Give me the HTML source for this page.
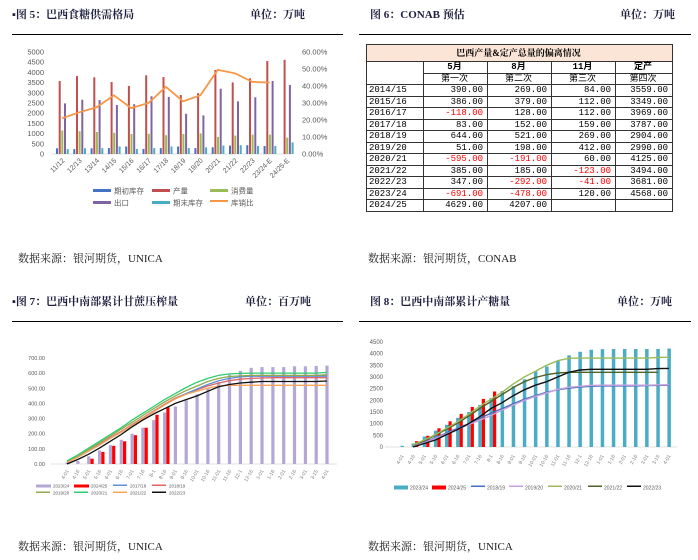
<!DOCTYPE html>
<html><head><meta charset="utf-8">
<style>
html,body{margin:0;padding:0;background:#fff;width:698px;height:560px;overflow:hidden}
body{position:relative;font-family:"Liberation Serif","Noto Serif CJK SC",serif}
.t{position:absolute;font-size:11px;font-weight:bold;color:#1f1f3f;white-space:nowrap;font-family:"Liberation Serif","Noto Serif CJK SC",serif}
.src{position:absolute;font-size:11px;color:#222;white-space:nowrap;font-family:"Liberation Serif","Noto Serif CJK SC",serif}
.hr{position:absolute;height:1px;background:#000}
svg{position:absolute;left:0;top:0}
table{position:absolute;left:366px;top:44px;border-collapse:collapse;font-family:"Liberation Mono","Noto Sans CJK SC",monospace;font-size:9px;width:307px}
td{border:1px solid #333;height:10.5px;padding:0 4px 0 2px;line-height:10px;text-align:right;white-space:nowrap}
td.l{text-align:left}
td.c{text-align:center}
.r{color:#f00}
</style></head><body>
<div class="t" style="left:12px;top:6px">▪图 5：巴西食糖供需格局</div>
<div class="t" style="left:250px;top:6px">单位：万吨</div>
<div class="hr" style="left:12px;top:34px;width:331px"></div>
<div class="t" style="left:370px;top:6px">图 6：CONAB 预估</div>
<div class="t" style="left:620px;top:6px">单位：万吨</div>
<div class="hr" style="left:359px;top:34px;width:332px"></div>
<div class="t" style="left:12px;top:293px">▪图 7：巴西中南部累计甘蔗压榨量</div>
<div class="t" style="left:245px;top:293px">单位：百万吨</div>
<div class="hr" style="left:12px;top:321px;width:331px"></div>
<div class="t" style="left:370px;top:293px">图 8：巴西中南部累计产糖量</div>
<div class="t" style="left:617px;top:293px">单位：万吨</div>
<div class="hr" style="left:359px;top:321px;width:332px"></div>
<div class="src" style="left:18px;top:250px">数据来源：银河期货，UNICA</div>
<div class="src" style="left:368px;top:250px">数据来源：银河期货，CONAB</div>
<div class="src" style="left:18px;top:538px">数据来源：银河期货，UNICA</div>
<div class="src" style="left:368px;top:538px">数据来源：银河期货，UNICA</div>

<table>
<tr><td colspan="5" class="c" style="background:#fbe5d6;height:16px;font-weight:bold;font-family:'Liberation Serif','Noto Serif CJK SC',serif">巴西产量&amp;定产总量的偏离情况</td></tr>
<tr><td style="border-bottom:none"></td><td class="c" style="width:57px"><b>5月</b></td><td class="c" style="width:57px"><b>8月</b></td><td class="c" style="width:57px"><b>11月</b></td><td class="c"><b>定产</b></td></tr>
<tr><td style="border-top:none"></td><td class="c">第一次</td><td class="c">第二次</td><td class="c">第三次</td><td class="c">第四次</td></tr>
<tr><td class="l">2014/15</td><td>390.00</td><td>269.00</td><td>84.00</td><td>3559.00</td></tr>
<tr><td class="l">2015/16</td><td>386.00</td><td>379.00</td><td>112.00</td><td>3349.00</td></tr>
<tr><td class="l">2016/17</td><td class="r">-118.00</td><td>128.00</td><td>112.00</td><td>3969.00</td></tr>
<tr><td class="l">2017/18</td><td>83.00</td><td>152.00</td><td>159.00</td><td>3787.00</td></tr>
<tr><td class="l">2018/19</td><td>644.00</td><td>521.00</td><td>269.00</td><td>2904.00</td></tr>
<tr><td class="l">2019/20</td><td>51.00</td><td>198.00</td><td>412.00</td><td>2990.00</td></tr>
<tr><td class="l">2020/21</td><td class="r">-595.00</td><td class="r">-191.00</td><td>60.00</td><td>4125.00</td></tr>
<tr><td class="l">2021/22</td><td>385.00</td><td>185.00</td><td class="r">-123.00</td><td>3494.00</td></tr>
<tr><td class="l">2022/23</td><td>347.00</td><td class="r">-292.00</td><td class="r">-41.00</td><td>3681.00</td></tr>
<tr><td class="l">2023/24</td><td class="r">-691.00</td><td class="r">-478.00</td><td>120.00</td><td>4568.00</td></tr>
<tr><td class="l">2024/25</td><td>4629.00</td><td>4207.00</td><td></td><td></td></tr>
</table>

<svg id="s" width="698" height="560" xmlns="http://www.w3.org/2000/svg"></svg>
<script>
var o='';
function T(x,y,s,a,fs,c,rot){o+='<text x="'+x+'" y="'+y+'" font-size="'+(fs||7)+'" fill="'+(c||'#595959')+'" text-anchor="'+(a||'start')+'" font-family="Liberation Sans,Noto Sans CJK SC,sans-serif"'+(rot?' transform="rotate('+rot+' '+x+' '+y+')"':'')+'>'+s+'</text>';}
function R(x,y,w,h,c){o+='<rect x="'+x.toFixed(1)+'" y="'+y.toFixed(1)+'" width="'+w+'" height="'+Math.max(0,h).toFixed(1)+'" fill="'+c+'"/>';}
function P(pts,c,w){o+='<polyline points="'+pts.join(' ')+'" fill="none" stroke="'+c+'" stroke-width="'+(w||1.3)+'"/>';}
function L(x1,y1,x2,y2,c){o+='<line x1="'+x1+'" y1="'+y1+'" x2="'+x2+'" y2="'+y2+'" stroke="'+c+'" stroke-width="0.8"/>';}
// Chart 5
var y0=154,k=102/5000;
for(var i=0;i<=10;i++){T(44,y0-i*500*k+2.5,i*500,'end',7.5);}
for(var i=0;i<=6;i++){T(302,y0-i*17+2.5,(i*10).toFixed(2)+'%','start',7.5);}
L(52,y0,292,y0,'#d9d9d9');
var cats=['11/12','12/13','13/14','14/15','15/16','16/17','17/18','18/19','19/20','20/21','21/22','22/23','23/24-E','24/25-E'];
var pr=[3580,3820,3760,3530,3340,3860,3770,2890,2980,4120,3510,3710,4560,4620],
ex=[2480,2660,2640,2400,2440,2830,2800,1970,1890,3200,2580,2780,3580,3380],
cs=[1150,1120,1080,1040,980,990,920,980,1010,840,900,950,950,800],
bs=[280,240,280,290,370,250,290,370,290,330,410,430,390,0],
es=[240,280,290,370,250,290,370,290,330,410,430,390,390,570],
rt=[21,24.5,27.5,34.5,27,30,39.5,31,34.5,49.5,47.5,42.5,42];
var pts=[];
for(var i=0;i<14;i++){var x=56+i*17.3;
R(x,y0-bs[i]*k,2,bs[i]*k,'#4472c4');R(x+2.7,y0-pr[i]*k,2,pr[i]*k,'#c0504d');R(x+5.3,y0-cs[i]*k,2,cs[i]*k,'#9bbb59');R(x+8,y0-ex[i]*k,2,ex[i]*k,'#8064a2');R(x+10.7,y0-es[i]*k,2,es[i]*k,'#4bacc6');
if(i<13)pts.push((x+6).toFixed(1)+','+(y0-rt[i]/60*102).toFixed(1));
T(x+9,161,cats[i],'end',7,'#595959',-45);}
P(pts,'#f79646',1.8);
var lg=[['期初库存','#4472c4',93,191],['产量','#c0504d',152,191],['消费量','#9bbb59',210,191],['出口','#8064a2',93,203],['期末库存','#4bacc6',152,203]];
lg.forEach(function(a){R(a[2],a[3]-2,18,3,a[1]);T(a[2]+21,a[3]+2.5,a[0],'start',7.5);});
R(210,200,18,2,'#f79646');T(231,205.5,'库销比','start',7.5);
// Chart 7
var xl=['4-01','4-16','5-01','5-16','6-01','6-16','7-01','7-16','8-1','8-16','9-01','9-16','10-01','10-16','11-01','11-16','12-1','12-16','1-01','1-16','2-01','2-16','3-01','3-15','4-01'];
y0=464;k=106/700;
for(var i=0;i<=7;i++)T(45,y0-i*100*k+2,(i*100)+'.00','end',5.5);
L(50,y0,337,y0,'#d9d9d9');
var pu=[10,20,50,90,125,160,200,240,290,340,380,420,460,500,540,590,615,635,640,640,640,645,645,648,650];
var rd=[0,0,35,80,120,150,190,240,325,375];
for(var i=0;i<25;i++){var x=67+i*10.83;R(x-1.5,y0-pu[i]*k,3.2,pu[i]*k,'#b4a7d6');if(rd[i])R(x+1.8,y0-rd[i]*k,3.2,rd[i]*k,'#ff0000');T(x+2,y0+7,xl[i],'end',5,'#7f7f7f',-60);}
function line7(v,c){var p=[];v.forEach(function(d,i){p.push((67+i*10.83).toFixed(1)+','+(y0-d*k).toFixed(1));});P(p,c,1.3);}
line7([10,45,90,130,175,215,260,305,350,395,435,465,490,515,535,550,560,565,568,570,570,570,570,570,570],'#e06666');
line7([10,45,85,125,170,210,255,300,345,390,430,465,495,525,550,565,575,580,580,580,580,580,580,580,580],'#5b8fd6');
line7([15,50,95,140,185,230,275,320,365,410,450,485,515,545,565,578,582,585,585,585,585,585,585,585,590],'#8faa4b');
line7([20,60,105,150,195,240,290,335,380,425,465,505,540,565,585,595,598,600,600,600,600,600,600,600,605],'#2ecc71');
line7([10,45,85,125,170,210,255,300,345,390,430,460,480,500,515,520,520,520,520,520,520,520,520,520,520],'#f6a55a');
line7([0,30,65,105,150,195,245,290,330,365,400,425,450,480,510,525,535,540,545,545,545,545,545,545,548],'#111');
var l7=[['2023/24','#b4a7d6',36,486],['2024/25','#ff0000',74,486],['2017/18','#5b8fd6',113,486],['2018/19','#e06666',152,486],['2019/20','#8faa4b',36,493],['2020/21','#2ecc71',74,493],['2021/22','#f6a55a',113,493],['2022/23','#111',152,493]];
l7.forEach(function(a,i){R(a[2],a[3]-1.5,i<2?15:14,i<2?3:1.5,a[1]);T(a[2]+17,a[3]+1.5,a[0],'start',4.5);});
// Chart 8
y0=447;k=105/4500;
for(var i=0;i<=9;i++)T(383,y0-i*500*k+2,i*500,'end',6);
L(385,y0,677,y0,'#d9d9d9');
var tb=[50,150,450,700,950,1250,1500,1800,2100,2400,2600,2900,3250,3450,3700,3930,4080,4170,4190,4200,4200,4200,4200,4200,4220];
var r8=[0,250,480,800,1100,1420,1720,2060,2380];
for(var i=0;i<25;i++){var x=402+i*11.12;R(x-1.5,y0-tb[i]*k,3.5,tb[i]*k,'#4bacc6');if(r8[i])R(x+2,y0-r8[i]*k,3.2,r8[i]*k,'#ff0000');T(x+2,y0+9,xl[i],'end',5,'#7f7f7f',-60);}
function line8(v,c){var p=[];v.forEach(function(d,i){if(d!==null)p.push((402+i*11.12).toFixed(1)+','+(y0-d*k).toFixed(1));});P(p,c,1.4);}
line8([null,50,200,400,600,800,1000,1230,1450,1650,1850,2050,2200,2350,2450,2520,2570,2600,2620,2620,2620,2620,2630,2640,2650],'#4472c4');
line8([null,40,180,370,560,760,960,1150,1350,1580,1800,2000,2170,2320,2470,2560,2600,2640,2650,2650,2650,2650,2650,2660,2670],'#c9a0dc');
line8([null,80,260,500,760,1020,1330,1650,1950,2250,2550,2800,2980,3100,3170,3200,3200,3200,3200,3200,3200,3200,3200,3200],'#4f6228');
line8([null,100,300,530,800,1080,1400,1750,2050,2350,2700,3000,3250,3500,3700,3800,3810,3810,3810,3810,3810,3810,3810,3840,3850],'#9bbb59');
line8([null,0,150,300,530,750,1000,1300,1650,1900,2200,2450,2650,2800,3000,3200,3300,3330,3330,3330,3330,3330,3330,3360,3370],'#111');
var l8=[['2023/24','#4bacc6',394],['2024/25','#ff0000',432],['2018/19','#4472c4',471],['2019/20','#c9a0dc',509],['2020/21','#9bbb59',548],['2021/22','#4f6228',588],['2022/23','#111',627]];
l8.forEach(function(a,i){R(a[2],485.5,14,i<2?4:1.5,a[1]);T(a[2]+16,489.5,a[0],'start',5);});
document.getElementById('s').innerHTML=o;
</script>
</body></html>
